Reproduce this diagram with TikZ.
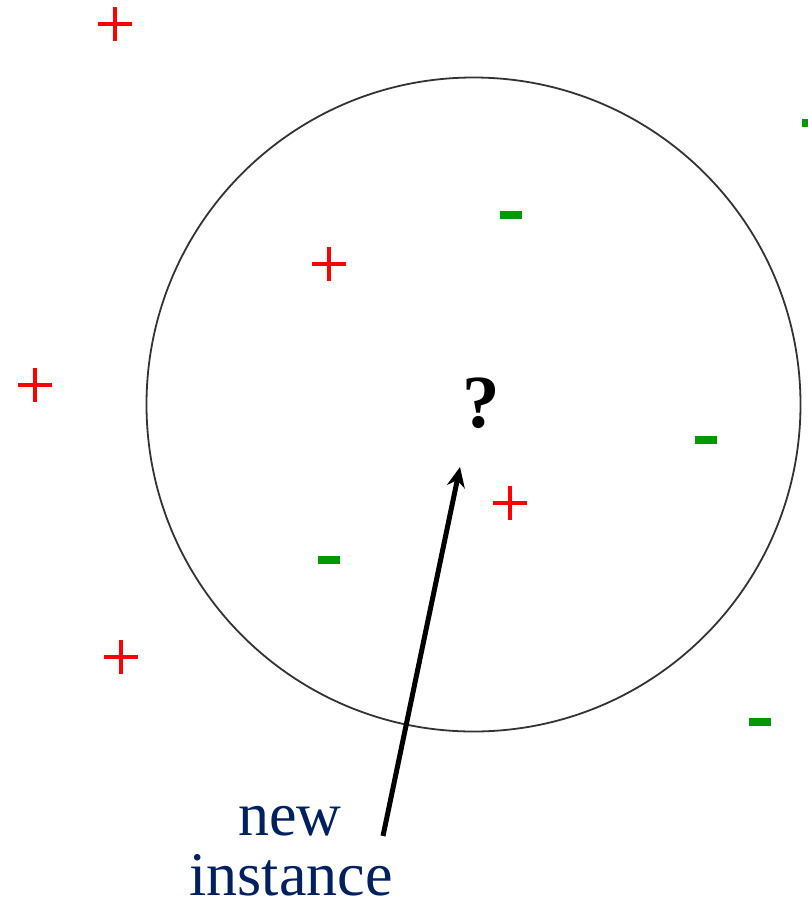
\documentclass[tikz,border=0pt]{standalone}
\usepackage{fontspec}
\setmainfont{Liberation Serif}
\usetikzlibrary{arrows.meta,positioning}
\definecolor{posred}{RGB}{255,0,0}
\definecolor{neggreen}{RGB}{0,153,0}
\definecolor{labelblue}{RGB}{0,32,96}
\begin{document}
\begin{tikzpicture}[
    x=1pt, y=-1pt,
    plusmark/.style={
        rectangle,
        minimum size=34pt,
        inner sep=0pt,
        path picture={
            \draw[posred, line width=4pt]
                (path picture bounding box.north) -- (path picture bounding box.south)
                (path picture bounding box.west) -- (path picture bounding box.east);
        }
    },
    minusmark/.style={
        rectangle,
        fill=neggreen,
        minimum width=22pt,
        minimum height=8pt,
        inner sep=0pt
    },
    caption/.style={
        inner sep=0pt,
        anchor=base,
        text=labelblue,
        font=\fontsize{62}{62}\selectfont
    },
    pointer/.style={
        line width=5pt,
        -{Stealth[length=20pt,width=18pt]}
    }
]
    \useasboundingbox (0,0) rectangle (808,900);

    % neighbourhood of the query point
    \node[circle, draw=black!80, line width=1.8pt, minimum size=654pt, inner sep=0pt] (nbhd) at (473.5,404.5) {};

    \foreach \name/\x/\y in {
        p1/115/24,
        p2/329/264,
        p3/35/385,
        p4/510/503,
        p5/121/657%
    } {
        \node[plusmark] (\name) at (\x, \y) {};
    }
    \foreach \name/\x/\y in {
        m1/511/215,
        m2/706/440,
        m3/329/560,
        m4/760/722,
        m5/813/123%
    } {
        \node[minusmark] (\name) at (\x, \y) {};
    }

    \node[font=\bfseries\fontsize{75}{75}\selectfont] (query) at (481,403) {?};

    \node[caption] (lbl1) at (290,835) {new};
    \node[caption] (lbl2) at (291,895) {instance};
    \coordinate (tail) at (383,836);
    \coordinate (tip) at (460,467);
    \draw[pointer] (tail) -- (tip);

\end{tikzpicture}
\end{document}
